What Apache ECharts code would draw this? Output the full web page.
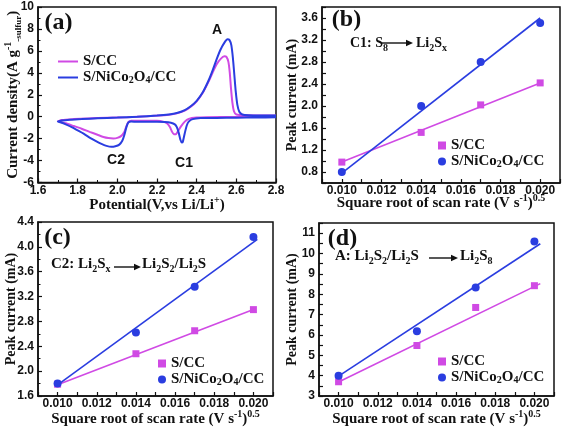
<!DOCTYPE html>
<html><head><meta charset="utf-8">
<script src="https://cdn.jsdelivr.net/npm/echarts@6/dist/echarts.min.js"></script>
<style>html,body{margin:0;padding:0;background:#fff}#c{width:564px;height:433px}</style>
</head><body><div id="c"></div>
<script>
// ---------- Panel (a): cyclic voltammetry ----------
const cvPinkV = [2.80,2.60,2.45,2.40,2.36,2.34,2.32,2.305,2.295,2.285,2.275,2.265,2.25,2.23,2.20,2.10,2.07,2.055,2.045,2.035,2.02,2.00,1.98,1.955,1.93,1.90,1.86,1.82,1.78,1.74,1.70,
  1.72,1.78,1.85,1.95,2.05,2.15,2.25,2.30,2.34,2.37,2.40,2.43,2.46,2.48,2.50,2.52,2.54,2.55,2.56,2.567,2.573,2.58,2.588,2.60,2.65,2.80];
const cvPinkI = [-0.02,-0.03,-0.05,-0.08,-0.2,-0.45,-0.9,-1.35,-1.6,-1.6,-1.35,-0.95,-0.6,-0.45,-0.38,-0.36,-0.36,-0.5,-0.9,-1.4,-1.75,-1.93,-1.98,-1.95,-1.85,-1.65,-1.38,-1.1,-0.85,-0.6,-0.42,
  -0.3,-0.22,-0.16,-0.1,-0.04,0.04,0.15,0.3,0.55,0.9,1.4,2.15,3.2,4.0,4.75,5.25,5.5,5.45,5.0,4.0,2.6,1.3,0.5,0.2,0.12,0.1];
const cvBlueV = [2.80,2.70,2.60,2.50,2.42,2.38,2.36,2.35,2.34,2.33,2.325,2.318,2.31,2.30,2.29,2.27,2.24,2.20,2.15,2.10,2.07,2.055,2.045,2.035,2.025,2.01,1.99,1.97,1.945,1.92,1.89,1.86,1.83,1.80,1.77,1.74,1.72,1.70,
  1.72,1.76,1.82,1.90,2.00,2.10,2.20,2.26,2.30,2.34,2.37,2.40,2.43,2.46,2.48,2.50,2.52,2.54,2.555,2.565,2.575,2.583,2.59,2.597,2.605,2.615,2.63,2.66,2.72,2.80];
const cvBlueI = [-0.06,-0.08,-0.09,-0.11,-0.13,-0.22,-0.45,-0.8,-1.5,-2.3,-2.35,-2.1,-1.5,-0.95,-0.7,-0.55,-0.48,-0.47,-0.47,-0.47,-0.45,-0.55,-1.0,-1.7,-2.2,-2.55,-2.7,-2.75,-2.66,-2.48,-2.2,-1.9,-1.55,-1.25,-0.95,-0.7,-0.55,-0.45,
  -0.35,-0.27,-0.22,-0.15,-0.08,0.0,0.1,0.2,0.33,0.6,0.95,1.45,2.2,3.3,4.2,5.2,6.1,6.75,7.05,7.0,6.5,5.3,3.8,2.3,1.1,0.45,0.2,0.12,0.1,0.1];

// ---------- Panels (b)-(d): peak current vs sqrt scan rate ----------
const rateX = [0.010, 0.014, 0.017, 0.020];
const bPink = [0.98, 1.52, 2.02, 2.42];
const bBlue = [0.80, 2.00, 2.80, 3.51];
const bPinkFitX = [0.010, 0.020], bPinkFitY = [0.98, 2.42];
const bBlueFitX = [0.010, 0.020], bBlueFitY = [0.78, 3.60];
const cPink = [1.79, 2.28, 2.65, 2.99];
const cBlue = [1.80, 2.62, 3.36, 4.16];
const cPinkFitX = [0.010, 0.020], cPinkFitY = [1.78, 2.99];
const cBlueFitX = [0.010, 0.0202], cBlueFitY = [1.78, 4.12];
const dPink = [3.70, 5.48, 7.35, 8.42];
const dBlue = [4.00, 6.18, 8.33, 10.59];
const dPinkFitX = [0.010, 0.0203], dPinkFitY = [3.69, 8.52];
const dBlueFitX = [0.010, 0.0203], dBlueFitY = [3.98, 10.48];

const PINK = '#d04ae4', BLUE = '#2a3de0', INK = '#111';
const SERIF = 'Liberation Serif, Times New Roman, serif';
const SANS = 'Liberation Sans, Arial, sans-serif';
const zip = (xs, ys) => xs.map((x, i) => [x, ys[i]]);

const axLine = {show: true, onZero: false, lineStyle: {color: INK, width: 1.5}};
const tick = {show: true, inside: true, length: 4, lineStyle: {color: INK, width: 1.2}};
const minor = {show: true, splitNumber: 2, length: 2.5, lineStyle: {color: INK, width: 1}};
const lbl = {color: INK, fontFamily: SANS, fontWeight: 'bold', fontSize: 12};
const richT = (fs) => ({
  t: {fontFamily: SERIF, fontWeight: 'bold', fontSize: fs, lineHeight: 20, color: INK},
  sup: {fontFamily: SERIF, fontWeight: 'bold', fontSize: 10, lineHeight: 11, verticalAlign: 'top', color: INK},
  sub: {fontFamily: SERIF, fontWeight: 'bold', fontSize: 9, lineHeight: 10, verticalAlign: 'bottom', color: INK}
});

const rateName = '{t|Square root of scan rate (V s}{sup|-1}{t|)}{sup|0.5}';
function rateAxis(gi, gap) {
  return {type: 'value', gridIndex: gi, min: 0.009, max: 0.021, interval: 0.001,
    axisLine: axLine, axisTick: tick, splitLine: {show: false},
    axisLabel: Object.assign({margin: 2, formatter: v => {
      const k = Math.round(v * 1000); return (k % 2 === 0) ? (k / 1000).toFixed(3) : '';
    }}, lbl),
    name: rateName, nameLocation: 'middle', nameGap: gap, nameMoveOverlap: false,
    nameTextStyle: {rich: richT(15)}};
}
function peakAxis(gi, min, max, interval, labelStep, dec, gap) {
  return {type: 'value', gridIndex: gi, min: min, max: max, interval: interval,
    axisLine: axLine, axisTick: tick, splitLine: {show: false},
    axisLabel: Object.assign({margin: 4, formatter: v => {
      const k = Math.round(v / interval), s = Math.round(labelStep / interval);
      return (k % s === 0) ? (k * interval).toFixed(dec) : '';
    }}, lbl),
    name: 'Peak current (mA)', nameLocation: 'middle', nameGap: gap, nameMoveOverlap: false,
    nameTextStyle: {fontFamily: SERIF, fontWeight: 'bold', fontSize: 14, color: INK}};
}

const grids = [
  {left: 38, top: 7, width: 238, height: 175.5},
  {left: 322, top: 7, width: 238, height: 176},
  {left: 38, top: 222, width: 235, height: 174},
  {left: 319, top: 223, width: 235, height: 173}
].map(g => Object.assign({show: true, borderColor: INK, borderWidth: 1.5, backgroundColor: 'transparent'}, g));

const xAxes = [
  {type: 'value', gridIndex: 0, min: 1.6, max: 2.8, interval: 0.2,
    axisLine: axLine, axisTick: tick, minorTick: minor, splitLine: {show: false},
    axisLabel: Object.assign({margin: 2, formatter: v => v.toFixed(1)}, lbl),
    name: '{t|Potential(V,vs Li/Li}{sup|+}{t|)}', nameLocation: 'middle', nameGap: 13, nameMoveOverlap: false,
    nameTextStyle: {rich: richT(15)}},
  rateAxis(1, 10), rateAxis(2, 13), rateAxis(3, 13)
];
const yAxes = [
  {type: 'value', gridIndex: 0, min: -6, max: 10, interval: 2,
    axisLine: axLine, axisTick: tick, minorTick: minor, splitLine: {show: false},
    axisLabel: Object.assign({margin: 4}, lbl),
    name: '{t|Current density(A g}{sup|-1}{sub|-sulfur}{t|)}', nameLocation: 'middle', nameGap: 15, nameMoveOverlap: false,
    nameTextStyle: {rich: richT(15)}},
  peakAxis(1, 0.6, 3.8, 0.2, 0.4, 1, 23),
  Object.assign(peakAxis(2, 1.6, 4.4, 0.4, 0.4, 1, 20), {minorTick: minor}),
  peakAxis(3, 3, 11.5, 0.5, 1, 0, 20)
];

function fit(name, gi, xs, ys, color) {
  return {name: name, type: 'line', xAxisIndex: gi, yAxisIndex: gi, data: zip(xs, ys),
    symbol: 'none', lineStyle: {color: color, width: 1.6}, itemStyle: {color: color}, z: 2};
}
function pts(name, gi, ys, color, sym, size) {
  return {name: name, type: 'scatter', xAxisIndex: gi, yAxisIndex: gi, data: zip(rateX, ys),
    symbol: sym, symbolSize: size, itemStyle: {color: color, opacity: 1}, z: 3};
}
const series = [
  {name: 'aP', type: 'line', xAxisIndex: 0, yAxisIndex: 0, data: zip(cvPinkV, cvPinkI), symbol: 'none', smooth: 0.2,
    lineStyle: {color: PINK, width: 2}, itemStyle: {color: PINK}},
  {name: 'aB', type: 'line', xAxisIndex: 0, yAxisIndex: 0, data: zip(cvBlueV, cvBlueI), symbol: 'none', smooth: 0.2,
    lineStyle: {color: BLUE, width: 2}, itemStyle: {color: BLUE}},
  fit('bPf', 1, bPinkFitX, bPinkFitY, PINK), fit('bBf', 1, bBlueFitX, bBlueFitY, BLUE),
  pts('bP', 1, bPink, PINK, 'rect', 7), pts('bB', 1, bBlue, BLUE, 'circle', 8),
  fit('cPf', 2, cPinkFitX, cPinkFitY, PINK), fit('cBf', 2, cBlueFitX, cBlueFitY, BLUE),
  pts('cP', 2, cPink, PINK, 'rect', 7), pts('cB', 2, cBlue, BLUE, 'circle', 8),
  fit('dPf', 3, dPinkFitX, dPinkFitY, PINK), fit('dBf', 3, dBlueFitX, dBlueFitY, BLUE),
  pts('dP', 3, dPink, PINK, 'rect', 7), pts('dB', 3, dBlue, BLUE, 'circle', 8)
];

const legRich = {
  t: {fontFamily: SERIF, fontWeight: 'bold', fontSize: 15, lineHeight: 16, color: INK},
  s: {fontFamily: SERIF, fontWeight: 'bold', fontSize: 10, lineHeight: 9, verticalAlign: 'bottom', color: INK}
};
const legLabel = n => n.endsWith('P') ? '{t|S/CC}' : '{t|S/NiCo}{s|2}{t|O}{s|4}{t|/CC}';
function legend(names, left, top, lineIcon) {
  return {orient: 'vertical', left: left, top: top, padding: 0, itemGap: 1,
    itemWidth: lineIcon ? 20 : 8, itemHeight: lineIcon ? 2 : 8, selectedMode: false,
    data: names.map((n, i) => ({name: n, icon: lineIcon ? 'rect' : (i === 0 ? 'rect' : 'circle')})),
    formatter: legLabel, textStyle: {rich: legRich}};
}

// annotation helpers
const annRich = (fs) => ({
  t: {fontFamily: SERIF, fontWeight: 'bold', fontSize: fs, lineHeight: 20, fill: INK, color: INK},
  s: {fontFamily: SERIF, fontWeight: 'bold', fontSize: 10, lineHeight: 10, verticalAlign: 'bottom', fill: INK, color: INK}
});
function txt(x, y, text, fs) {
  return {type: 'text', x: x, y: y, style: {text: text, rich: annRich(fs), textVerticalAlign: 'middle', fill: INK}};
}
function arrow(x1, x2, y) {
  return [
    {type: 'line', shape: {x1: x1, y1: y, x2: x2 - 5, y2: y}, style: {stroke: INK, lineWidth: 1.4}},
    {type: 'polygon', shape: {points: [[x2, y], [x2 - 7, y - 3.2], [x2 - 7, y + 3.2]]}, style: {fill: INK}}
  ];
}
function plain(x, y, text, font) {
  return {type: 'text', x: x, y: y, style: {text: text, font: font, fill: INK, textAlign: 'center', textVerticalAlign: 'middle'}};
}
const panelFont = 'bold 24px ' + SERIF;
const cvFont = 'bold 14px ' + SANS;

const graphic = [
  plain(58.5, 23, '(a)', panelFont), plain(346.5, 19.5, '(b)', panelFont),
  plain(57.5, 237.5, '(c)', panelFont), plain(342.5, 239, '(d)', panelFont),
  plain(217, 30, 'A', cvFont), plain(184, 163, 'C1', cvFont), plain(116, 160, 'C2', cvFont),
  txt(350, 43, '{t|C1: S}{s|8}', 14), ...arrow(382, 413, 43), txt(416, 43, '{t|Li}{s|2}{t|S}{s|x}', 14),
  txt(51, 264, '{t|C2: Li}{s|2}{t|S}{s|x}', 15), ...arrow(114, 141, 267), txt(142, 264, '{t|Li}{s|2}{t|S}{s|2}{t|/Li}{s|2}{t|S}', 15),
  txt(335, 256, '{t|A: Li}{s|2}{t|S}{s|2}{t|/Li}{s|2}{t|S}', 15), ...arrow(429, 458, 258), txt(460, 256, '{t|Li}{s|2}{t|S}{s|8}', 15)
];

const chart = echarts.init(document.getElementById('c'));
chart.setOption({
  animation: false, backgroundColor: '#fff',
  grid: grids, xAxis: xAxes, yAxis: yAxes, series: series,
  legend: [
    legend(['aP', 'aB'], 58, 54, true),
    legend(['bP', 'bB'], 438, 138, false),
    legend(['cP', 'cB'], 158, 356, false),
    legend(['dP', 'dB'], 438, 354, false)
  ],
  graphic: graphic
});
</script></body></html>
